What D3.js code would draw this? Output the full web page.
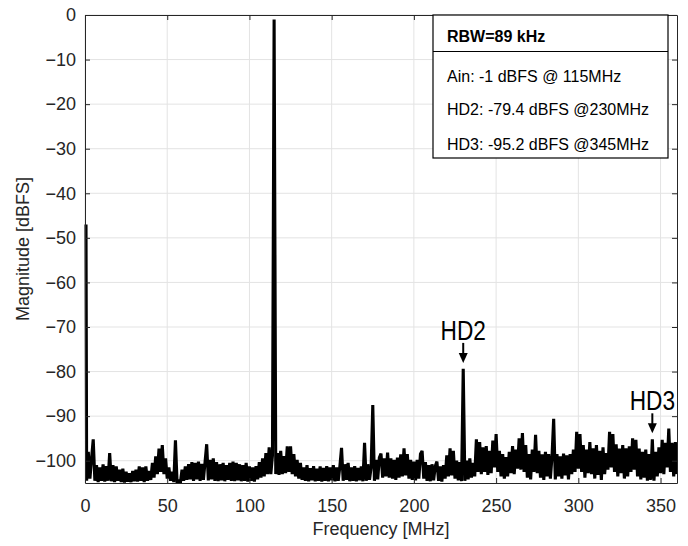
<!DOCTYPE html>
<html><head><meta charset="utf-8">
<script src="https://cdn.jsdelivr.net/npm/d3@7"></script>
<style>body{margin:0;background:#fff}svg{display:block}</style>
</head><body>
<svg id="chart" width="688" height="546"></svg>
<script>
// spectrum: one magnitude per MHz, starting at 0 MHz
const freqStartMHz = 0;
const freqStepMHz = 1;
const magnitudes = [
  -47, -104.5, -98, -104, -99.5, -95.2, -104.5, -101, -104.8, -101.5,
  -104.5, -100.8, -104.7, -101.2, -104.5, -98.3, -104.6, -101, -104.8, -101.3,
  -104.5, -102, -104.8, -101.8, -104.9, -102.5, -104.7, -102.8, -104.8, -102.3,
  -104.6, -102, -104.7, -101.3, -104.5, -101.5, -104.8, -101.3, -104.5, -102.3,
  -104.3, -100.5, -103.8, -99, -103, -97.3, -102.5, -96.5, -103, -99.5,
  -104, -101.5, -104.5, -102.5, -104.8, -95.4, -105, -104.3, -105, -102,
  -104.5, -101.3, -104.3, -100.8, -104.2, -100.3, -104.5, -100.5, -104.2, -100.2,
  -104.5, -100.7, -104.3, -100.3, -96.3, -104.4, -99.8, -104.2, -99.5, -104.5,
  -100.3, -104.6, -100.8, -104.4, -100.5, -104.6, -101, -104.3, -100.5, -104.5,
  -100.2, -104.6, -100.5, -104.4, -100.8, -104.6, -101, -104.5, -100.5, -104.7,
  -101.3, -104.5, -101.5, -104.7, -101.2, -104.2, -100.3, -103.8, -99.5, -103.5,
  -98.3, -103, -97, -103, -98.8, -1, -103, -98.3, -103.2, -97.8,
  -103, -99, -102.8, -96.8, -102.5, -96.8, -103, -98.5, -103.5, -99.8,
  -104, -100.5, -104.3, -101.5, -104.5, -101, -104.6, -101.7, -104.4, -101.2,
  -104.6, -101.8, -104.5, -101.3, -104.7, -101.6, -104.5, -101.2, -104.6, -101.5,
  -104.4, -101, -104.6, -101.5, -104.5, -101.2, -97.1, -104.5, -100.8, -104.3,
  -100.5, -104.6, -101.5, -104.5, -101.2, -104.6, -101.6, -104.4, -101.3, -104.6,
  -96, -104.5, -100.8, -104.3, -101.5, -87.5, -104.5, -99.8, -104.2, -99.3,
  -98.4, -103.8, -99.5, -103.5, -98.2, -103.8, -99.5, -104, -99.8, -104.3,
  -99.3, -103.8, -98.6, -103.5, -97.2, -103.3, -98.5, -104, -99.8, -104.3,
  -100.2, -104.4, -99.8, -104, -98.5, -97.8, -104, -100.3, -104.5, -101,
  -104.6, -100.8, -104.4, -101.2, -100.2, -104.5, -101.3, -104.7, -101, -104,
  -98.8, -103.5, -97.2, -103.3, -97.8, -104, -100, -104.4, -100.3, -104.6,
  -79.4, -104.5, -100, -104.2, -99.5, -103.8, -100.5, -103.5, -95.2, -102.5,
  -95.8, -103, -97, -102.5, -96.7, -103.2, -97.8, -102.8, -95.5, -101.5,
  -94, -102.5, -97.8, -103.5, -98.5, -104, -99.2, -103.5, -98, -102.8,
  -96.7, -103, -97.5, -101.8, -95, -102, -93.8, -102.5, -96.5, -103.8,
  -98.5, -104.2, -97.5, -102.5, -94.2, -102.8, -97.8, -103.8, -98.6, -104.3,
  -98, -103.5, -98.5, -104, -99, -90.6, -104.2, -98.5, -103.5, -99,
  -104, -98.4, -103.3, -98.8, -104.2, -98.5, -103, -97.5, -102.5, -93.5,
  -101.8, -94, -102.5, -96.5, -103.8, -97.5, -102.8, -95.8, -103, -97.2,
  -104, -96.5, -103.2, -97.8, -104.3, -97, -103, -98.3, -102, -93.5,
  -101.5, -94, -102.5, -96.3, -103.5, -97.3, -102.8, -96.5, -104, -97.2,
  -103.5, -96.8, -102.5, -95, -102, -95.3, -103.5, -97.3, -104.2, -98,
  -103.8, -97.5, -104.5, -98.5, -104.3, -95.2, -104.5, -98, -103.5, -97,
  -102.8, -95.3, -103, -96, -101.5, -92.8, -102.5, -96, -103.5, -95.8,
  -103
];
const xDomain = [0, 360];
const yDomain = [-105, 0];
const xTicks = [0, 50, 100, 150, 200, 250, 300, 350];
const yTicks = [0, -10, -20, -30, -40, -50, -60, -70, -80, -90, -100];
const xTitle = "Frequency [MHz]";
const yTitle = "Magnitude [dBFS]";
const legendTitle = "RBW=89 kHz";
const legendLines = ["Ain: -1 dBFS @ 115MHz", "HD2: -79.4 dBFS @230MHz", "HD3: -95.2 dBFS @345MHz"];
const annotationLabels = ["HD2", "HD3"];
const annotationFreqs = [230, 345];
const annotationMags = [-79.4, -95.2];

const W = 688, H = 546;
const m = {left: 85, right: 11, top: 15, bottom: 63};
const svg = d3.select("#chart");
const font = "'Liberation Sans', Arial, sans-serif";
const ink = "#262626";

const x = d3.scaleLinear().domain(xDomain).range([m.left, W - m.right]);
const y = d3.scaleLinear().domain(yDomain).range([H - m.bottom, m.top]);

// grid
const grid = svg.append("g").attr("stroke", "#e3e3e3").attr("stroke-width", 1);
xTicks.forEach(t => grid.append("line").attr("x1", x(t)).attr("x2", x(t)).attr("y1", y.range()[1]).attr("y2", y.range()[0]));
yTicks.forEach(t => grid.append("line").attr("y1", y(t)).attr("y2", y(t)).attr("x1", x.range()[0]).attr("x2", x.range()[1]));

// clip (a little slack on the left so the DC line shows next to the axis)
svg.append("clipPath").attr("id", "plotclip").append("rect")
  .attr("x", x.range()[0] - 1).attr("y", y.range()[1])
  .attr("width", x.range()[1] - x.range()[0] + 1).attr("height", y.range()[0] - y.range()[1]);

const pts = magnitudes.map((v, i) => [freqStartMHz + i * freqStepMHz, v]);
svg.append("path").datum(pts)
  .attr("clip-path", "url(#plotclip)")
  .attr("fill", "none").attr("stroke", "#000").attr("stroke-width", 3.1)
  .attr("stroke-linejoin", "miter").attr("stroke-miterlimit", 2)
  .attr("d", d3.line().x(d => x(d[0]) + (d[0] === 0 ? 1 : 0)).y(d => y(d[1])));

// axes
function styleAxis(g) {
  g.selectAll("path.domain").attr("stroke", ink);
  g.selectAll(".tick line").attr("stroke", ink);
  g.selectAll("text").attr("fill", ink).style("font-family", font).style("font-size", "18px");
}
svg.append("g").attr("transform", `translate(0,${y.range()[0]})`)
  .call(d3.axisBottom(x).tickValues(xTicks).tickSizeInner(-5).tickSizeOuter(0).tickPadding(16))
  .call(styleAxis);
svg.append("g").attr("transform", `translate(${x.range()[0]},0)`)
  .call(d3.axisLeft(y).tickValues(yTicks).tickSizeInner(-5).tickSizeOuter(0).tickPadding(9))
  .call(styleAxis);
svg.append("g").attr("transform", `translate(0,${y.range()[1]})`)
  .call(d3.axisTop(x).tickValues(xTicks).tickSizeInner(-5).tickSizeOuter(0).tickFormat(""))
  .call(styleAxis);
svg.append("g").attr("transform", `translate(${x.range()[1]},0)`)
  .call(d3.axisRight(y).tickValues(yTicks).tickSizeInner(-5).tickSizeOuter(0).tickFormat(""))
  .call(styleAxis);

// axis titles
svg.append("text").attr("x", (x.range()[0] + x.range()[1]) / 2).attr("y", 535)
  .attr("text-anchor", "middle").attr("fill", ink)
  .style("font-family", font).style("font-size", "18px").text(xTitle);
svg.append("text").attr("transform", `translate(29,${(y.range()[0] + y.range()[1]) / 2}) rotate(-90)`)
  .attr("text-anchor", "middle").attr("fill", ink)
  .style("font-family", font).style("font-size", "18px").text(yTitle);

// legend box
const lg = svg.append("g");
const lx = 433, ly = 15, lw = 235, lh = 143;
lg.append("rect").attr("x", lx).attr("y", ly).attr("width", lw).attr("height", lh)
  .attr("fill", "#fff").attr("stroke", "#000").attr("stroke-width", 1.2);
lg.append("line").attr("x1", lx).attr("x2", lx + lw).attr("y1", 51.5).attr("y2", 51.5)
  .attr("stroke", "#000").attr("stroke-width", 1.2);
lg.append("text").attr("x", 447).attr("y", 41.5).attr("fill", "#000")
  .style("font-family", font).style("font-size", "16px").style("font-weight", "bold").text(legendTitle);
const lineY = [81.5, 115, 149.5];
legendLines.forEach((t, i) => {
  lg.append("text").attr("x", 447).attr("y", lineY[i]).attr("fill", "#000")
    .style("font-family", font).style("font-size", "16px").text(t);
});

// annotations
annotationLabels.forEach((lab, i) => {
  const ax = x(annotationFreqs[i]);
  const tipY = y(annotationMags[i]) - 6;
  const g = svg.append("g");
  g.append("line").attr("x1", ax).attr("x2", ax).attr("y1", tipY - 20).attr("y2", tipY - 8)
    .attr("stroke", "#000").attr("stroke-width", 2);
  g.append("path").attr("d", `M${ax - 4.5},${tipY - 10} L${ax + 4.5},${tipY - 10} L${ax},${tipY} Z`).attr("fill", "#000");
  g.append("text").attr("transform", `translate(${ax},${tipY - 23}) scale(0.84,1)`)
    .attr("text-anchor", "middle").attr("fill", "#000")
    .style("font-family", font).style("font-size", "27px").text(lab);
});
</script>
</body></html>
